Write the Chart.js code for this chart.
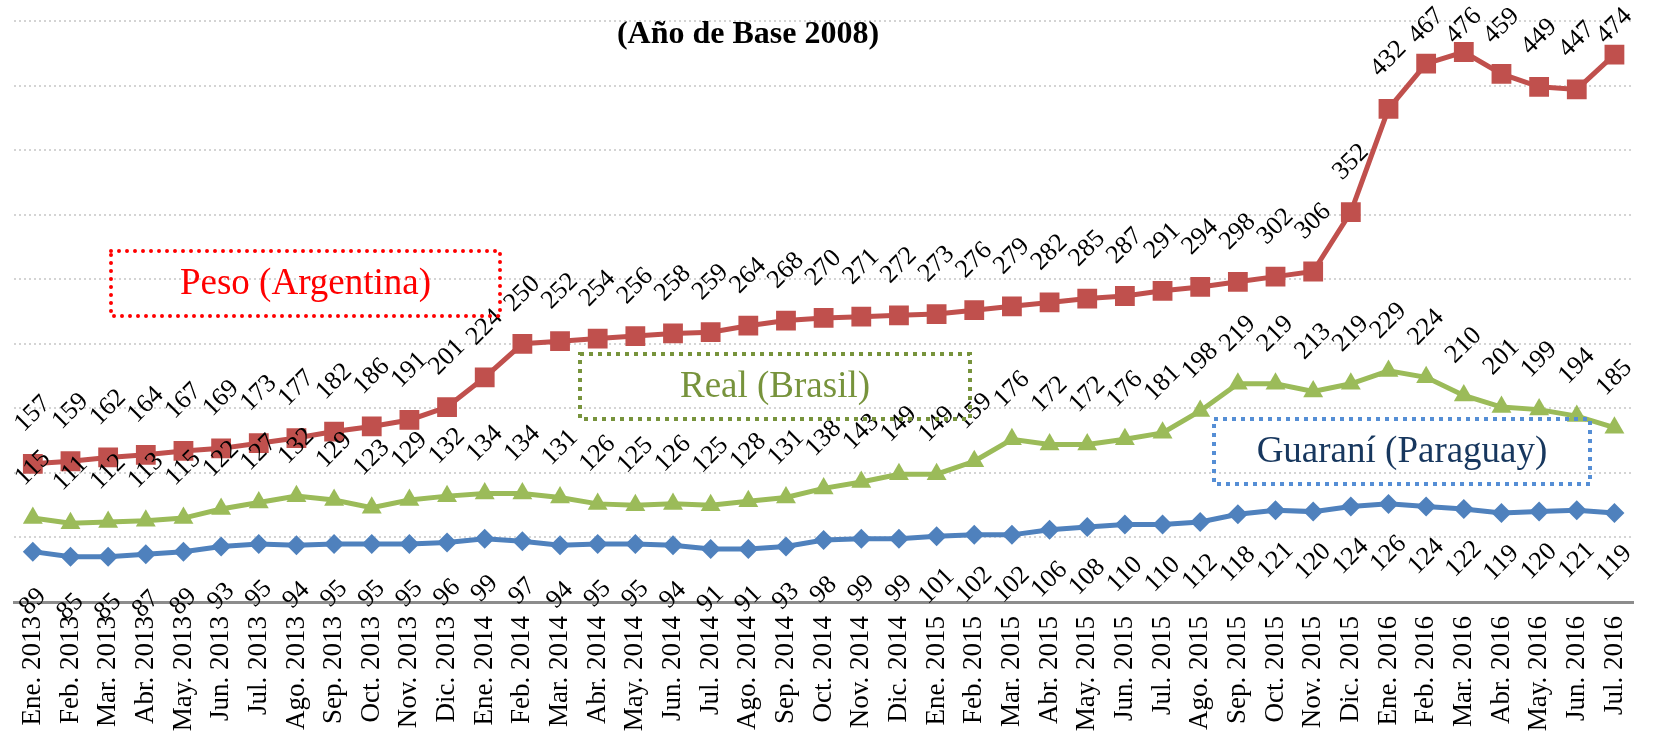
<!DOCTYPE html>
<html>
<head>
<meta charset="utf-8">
<title>Tipo de cambio (Año de Base 2008)</title>
<script src="https://cdn.jsdelivr.net/npm/chart.js@4"></script>
<style>
    body { margin: 0; background: #ffffff; }
    #wrap { width: 1661px; height: 734px; position: relative; }
</style>
</head>
<body>
<div id="wrap"><canvas id="tcChart"></canvas></div>
<script>
// categorías (meses)
const meses = [
    'Ene. 2013', 'Feb. 2013', 'Mar. 2013', 'Abr. 2013', 'May. 2013', 'Jun. 2013',
    'Jul. 2013', 'Ago. 2013', 'Sep. 2013', 'Oct. 2013', 'Nov. 2013', 'Dic. 2013',
    'Ene. 2014', 'Feb. 2014', 'Mar. 2014', 'Abr. 2014', 'May. 2014', 'Jun. 2014',
    'Jul. 2014', 'Ago. 2014', 'Sep. 2014', 'Oct. 2014', 'Nov. 2014', 'Dic. 2014',
    'Ene. 2015', 'Feb. 2015', 'Mar. 2015', 'Abr. 2015', 'May. 2015', 'Jun. 2015',
    'Jul. 2015', 'Ago. 2015', 'Sep. 2015', 'Oct. 2015', 'Nov. 2015', 'Dic. 2015',
    'Ene. 2016', 'Feb. 2016', 'Mar. 2016', 'Abr. 2016', 'May. 2016', 'Jun. 2016',
    'Jul. 2016'
];

const pesoArgentina = [
    157, 159, 162, 164, 167, 169, 173, 177, 182, 186, 191, 201,
    224, 250, 252, 254, 256, 258, 259, 264, 268, 270, 271, 272,
    273, 276, 279, 282, 285, 287, 291, 294, 298, 302, 306, 352,
    432, 467, 476, 459, 449, 447, 474
];

const realBrasil = [
    115, 111, 112, 113, 115, 122, 127, 132, 129, 123, 129, 132,
    134, 134, 131, 126, 125, 126, 125, 128, 131, 138, 143, 149,
    149, 159, 176, 172, 172, 176, 181, 198, 219, 219, 213, 219,
    229, 224, 210, 201, 199, 194, 185
];

const guaraniParaguay = [
    89, 85, 85, 87, 89, 93, 95, 94, 95, 95, 95, 96,
    99, 97, 94, 95, 95, 94, 91, 91, 93, 98, 99, 99,
    101, 102, 102, 106, 108, 110, 110, 112, 118, 121, 120, 124,
    126, 124, 122, 119, 120, 121, 119
];

// eje y (sin etiquetas visibles)
const yMin = 50;
const yMax = 500;
const yStep = 50;

const serif = "'Liberation Serif', 'Times New Roman', serif";

// cuadros de texto sobre el gráfico
const cuadros = [
    { texto: 'Peso (Argentina)', x: 111, y: 251, w: 389, h: 65, borde: '#FF0000', color: '#FF0000', redondo: true },
    { texto: 'Real (Brasil)', x: 580, y: 354, w: 390, h: 65, borde: '#77933C', color: '#77933C', redondo: false },
    { texto: 'Guaraní (Paraguay)', x: 1214, y: 419, w: 376, h: 65, borde: '#558ED5', color: '#17375E', redondo: false }
];

// etiquetas de valor giradas: arriba para peso y real, abajo para guaraní
const etiquetasAbajo = [false, false, true];

const valueLabels = {
    id: 'valueLabels',
    afterDatasetsDraw(chart) {
        const ctx = chart.ctx;
        const top = chart.chartArea.top;
        ctx.save();
        ctx.font = '26px ' + serif;
        ctx.fillStyle = '#000000';
        ctx.textAlign = 'center';
        ctx.textBaseline = 'middle';
        chart.data.datasets.forEach(function (ds, i) {
            const meta = chart.getDatasetMeta(i);
            meta.data.forEach(function (pt, j) {
                let y = pt.y + (etiquetasAbajo[i] ? 50 : -50);
                y = Math.max(y, top + 5);
                ctx.save();
                ctx.translate(pt.x, y);
                ctx.rotate(-Math.PI / 4);
                ctx.fillText(String(ds.data[j]), 0, 0);
                ctx.restore();
            });
        });
        ctx.restore();
    }
};

const decoraciones = {
    id: 'decoraciones',
    afterDraw(chart) {
        const ctx = chart.ctx;
        ctx.save();

        // título
        ctx.font = 'bold 32px ' + serif;
        ctx.fillStyle = '#000000';
        ctx.textAlign = 'center';
        ctx.textBaseline = 'middle';
        ctx.fillText('(Año de Base 2008)', 748, 35);

        cuadros.forEach(function (c) {
            ctx.save();
            ctx.strokeStyle = c.borde;
            ctx.lineWidth = 4;
            if (c.redondo) {
                ctx.lineCap = 'round';
                ctx.setLineDash([0, 8]);
            } else {
                ctx.lineCap = 'butt';
                ctx.setLineDash([4, 5]);
            }
            ctx.strokeRect(c.x, c.y, c.w, c.h);
            ctx.restore();

            ctx.font = '37px ' + serif;
            ctx.fillStyle = c.color;
            ctx.fillText(c.texto, c.x + c.w / 2, c.y + c.h / 2 + 1);
        });
        ctx.restore();
    }
};

document.addEventListener('DOMContentLoaded', function () {
    setupChart();
});

function setupChart() {
    try {
        var ctxTc = document.getElementById('tcChart').getContext('2d');
        var tcChart = new Chart(ctxTc, {
            type: 'line',
            data: {
                labels: meses,
                datasets: [
                    {
                        label: 'Peso (Argentina)',
                        data: pesoArgentina,
                        borderColor: '#C0504D',
                        backgroundColor: '#C0504D',
                        borderWidth: 5,
                        pointStyle: 'rect',
                        pointRadius: 14,
                        pointBorderWidth: 0,
                        tension: 0,
                        fill: false
                    },
                    {
                        label: 'Real (Brasil)',
                        data: realBrasil,
                        borderColor: '#9BBB59',
                        backgroundColor: '#9BBB59',
                        borderWidth: 5,
                        pointStyle: 'triangle',
                        pointRadius: 11.5,
                        pointBorderWidth: 0,
                        tension: 0,
                        fill: false
                    },
                    {
                        label: 'Guaraní (Paraguay)',
                        data: guaraniParaguay,
                        borderColor: '#4F81BD',
                        backgroundColor: '#4F81BD',
                        borderWidth: 5,
                        pointStyle: 'rectRot',
                        pointRadius: 10,
                        pointBorderWidth: 0,
                        tension: 0,
                        fill: false
                    }
                ]
            },
            options: {
                responsive: true,
                maintainAspectRatio: false,
                animation: false,
                layout: {
                    padding: { left: 11, right: 13, top: 21, bottom: 0 }
                },
                plugins: {
                    legend: { display: false },
                    tooltip: { enabled: false },
                    title: { display: false }
                },
                scales: {
                    x: {
                        offset: true,
                        grid: { display: false, drawTicks: false },
                        border: { display: true, color: '#8C8C8C', width: 3 },
                        ticks: {
                            autoSkip: false,
                            maxRotation: 90,
                            minRotation: 90,
                            padding: 14,
                            color: '#000000',
                            font: { family: serif, size: 27 }
                        },
                        afterFit: function (scale) {
                            scale.height = 132;
                        }
                    },
                    y: {
                        min: yMin,
                        max: yMax,
                        ticks: { display: false, stepSize: yStep },
                        border: { display: false, dash: [2, 3] },
                        grid: {
                            color: '#D4D4D4',
                            lineWidth: 2,
                            drawTicks: false
                        },
                        afterFit: function (scale) {
                            scale.width = 0;
                        }
                    }
                }
            },
            plugins: [valueLabels, decoraciones]
        });
    } catch (error) {
        console.error('Error al crear el gráfico: ', error);
    }
}
</script>
</body>
</html>
